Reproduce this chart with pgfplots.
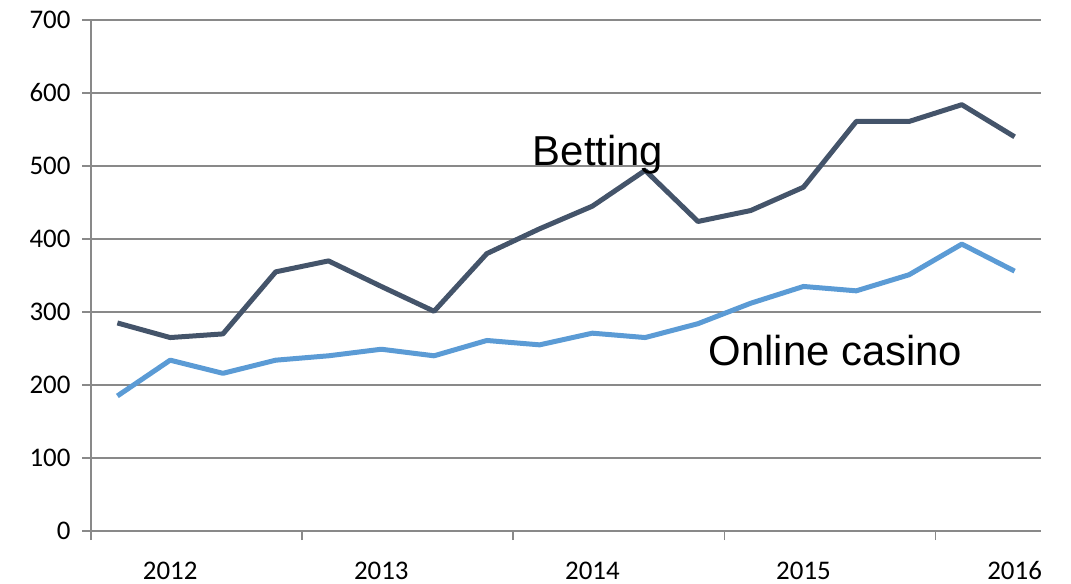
\documentclass[border=0pt]{standalone}
\usepackage{pgfplots}
\pgfplotsset{compat=1.18}
\usepackage{fontspec}
\setmainfont{Liberation Sans}
\newfontfamily\carlito{Carlito}
\newcommand{\tl}[1]{{\carlito\fontsize{27}{27}\selectfont #1}}
\definecolor{bet}{HTML}{44546A}
\definecolor{cas}{HTML}{5B9BD5}
\definecolor{gridc}{HTML}{898989}
\pgfplotstableread{
x y
0 285
1 265
2 270
3 355
4 370
5 335
6 301
7 380
8 414
9 445
10 494
11 424
12 439
13 471
14 561
15 561
16 584
17 540
}\betting
\pgfplotstableread{
x y
0 185
1 234
2 216
3 234
4 240
5 249
6 240
7 261
8 255
9 271
10 265
11 284
12 312
13 335
14 329
15 351
16 393
17 356
}\casino
\begin{document}
\begin{tikzpicture}
\useasboundingbox (-91bp,-53bp) rectangle (980bp,531bp);
\begin{axis}[
 at={(0,0)}, anchor=south west,
 scale only axis, width=950bp, height=511bp,
 xmin=-0.5, xmax=17.5, ymin=0, ymax=700,
 axis x line=bottom, axis y line=left,
 axis line style={gridc, line width=1.5bp, -},
 xtick={-0.5,3.5,7.5,11.5,15.5}, xticklabels={},
 ytick={0,100,200,300,400,500,600,700},
 yticklabels={\tl{0},\tl{100},\tl{200},\tl{300},\tl{400},\tl{500},\tl{600},\tl{700}},
 tick align=outside, major tick length=9bp,
 tick style={gridc, line width=1.5bp},
 ymajorgrids, grid style={gridc, line width=1.5bp},
 yticklabel style={text=black, xshift=-8bp},
 extra x ticks={1,5,9,13,17},
 extra x tick labels={\tl{2012},\tl{2013},\tl{2014},\tl{2015},\tl{2016}},
 extra x tick style={major tick length=0pt, xticklabel style={anchor=base, inner sep=0pt, yshift=-48bp}},
 clip=false,
]
\addplot[bet, line width=5bp, line join=round] table[x=x,y=y] {\betting};
\addplot[cas, line width=5bp, line join=round] table[x=x,y=y] {\casino};
\node[anchor=base west, inner sep=0pt, font=\fontsize{42}{42}\selectfont] at (axis cs:7.87,501) {Betting};
\node[anchor=base west, inner sep=0pt, font=\fontsize{42}{42}\selectfont] at (axis cs:11.2,227) {Online casino};
\end{axis}
\end{tikzpicture}
\end{document}
